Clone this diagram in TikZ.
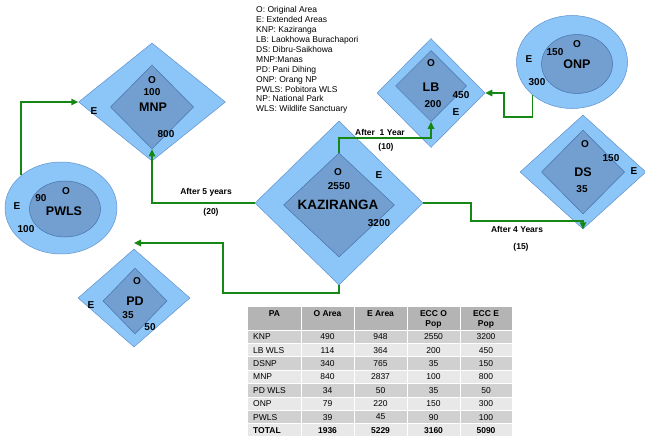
\documentclass[tikz,border=0pt]{standalone}
\usepackage{fontspec}
\setmainfont{Liberation Sans}
\usetikzlibrary{shapes.geometric,arrows.meta,calc}
\definecolor{outerblue}{RGB}{140,198,248}
\definecolor{innerblue}{RGB}{114,159,207}
\definecolor{edgeblue}{RGB}{95,145,205}
\definecolor{inedge}{RGB}{70,115,175}
\definecolor{linkgreen}{RGB}{20,135,20}
\definecolor{hdrgray}{RGB}{180,180,180}
\definecolor{rowdark}{RGB}{208,208,208}
\definecolor{rowlight}{RGB}{232,232,232}
\begin{document}
\begin{tikzpicture}[x=1pt,y=-1pt,
  sz/.style 2 args={minimum width=#1pt,minimum height=#2pt},
  odia/.style={diamond,draw=edgeblue,line width=0.5pt,fill=outerblue,inner sep=0pt},
  idia/.style={diamond,draw=inedge,line width=0.5pt,fill=innerblue,inner sep=0pt},
  oell/.style={ellipse,draw=edgeblue,line width=0.5pt,fill=outerblue,inner sep=0pt},
  iell/.style={ellipse,draw=inedge,line width=0.5pt,fill=innerblue,inner sep=0pt},
  lbl/.style={font=\fontsize{10}{12}\selectfont\bfseries,inner sep=0pt},
  pname/.style={font=\fontsize{12.5}{14}\selectfont\bfseries,inner sep=0pt},
  link/.style={draw=linkgreen,line width=1.6pt,-{Triangle[length=7pt,width=6.5pt]}},
  ltxt/.style={font=\fontsize{8.5}{10}\selectfont\bfseries,inner sep=0pt},
  legend/.style={font=\fontsize{8.5}{9.9}\selectfont,align=left,inner sep=0pt},
  tcell/.style={font=\fontsize{8.5}{10}\selectfont,inner sep=0pt},
  tbold/.style={font=\fontsize{8.5}{10}\selectfont\bfseries,inner sep=0pt},
  thead/.style={font=\fontsize{8.5}{10}\selectfont\bfseries,inner sep=0pt,align=center,anchor=north},
]
\useasboundingbox (0,0) rectangle (645,436);

% ---- legend
\node[legend,anchor=north west] (legend) at (256,6.5) {O: Original Area\\E: Extended Areas\\KNP: Kaziranga\\LB: Laokhowa Burachapori\\DS: Dibru-Saikhowa\\MNP:Manas\\PD: Pani Dihing\\ONP: Orang NP\\PWLS: Pobitora WLS\\NP: National Park\\WLS: Wildlife Sanctuary};

% ---- Kaziranga
\node[odia,sz={168}{164}] (knp) at (339,203) {};
\node[idia,sz={111}{104}] (knpI) at (339,205) {};
\node[lbl] (knpO) at (338,172) {O};
\node[lbl] (knpOn) at (339,186) {2550};
\node[font=\fontsize{13.5}{15}\selectfont\bfseries,inner sep=0pt] (knpN) at (338,205) {KAZIRANGA};
\node[lbl] (knpE) at (379,175) {E};
\node[lbl] (knpEn) at (379,223) {3200};

% ---- Manas
\node[odia,sz={147}{118}] (mnp) at (152,102) {};
\node[idia,sz={83}{84}] (mnpI) at (152,107) {};
\node[lbl] (mnpO) at (152,80) {O};
\node[lbl] (mnpOn) at (152,92) {100};
\node[pname] (mnpN) at (153,107) {MNP};
\node[lbl] (mnpE) at (94,111) {E};
\node[lbl] (mnpEn) at (166,134) {800};

% ---- Pobitora
\node[oell,sz={112}{92}] (pwls) at (61,208) {};
\node[iell,sz={71}{56}] (pwlsI) at (65,209) {};
\node[lbl] (pwlsO) at (66,191) {O};
\node[lbl] (pwlsOn) at (41,198) {90};
\node[pname] (pwlsN) at (64,211) {PWLS};
\node[lbl] (pwlsE) at (17,206) {E};
\node[lbl] (pwlsEn) at (26,229) {100};

% ---- Laokhowa
\node[odia,sz={108}{109}] (lb) at (431,93) {};
\node[idia,sz={71}{71}] (lbI) at (431,86) {};
\node[lbl] (lbO) at (431,63) {O};
\node[pname] (lbN) at (431,87) {LB};
\node[lbl] (lbOn) at (433,104) {200};
\node[lbl] (lbEn) at (461,95) {450};
\node[lbl] (lbE) at (456,112) {E};

% ---- Orang
\node[oell,sz={111}{93}] (onp) at (572,62) {};
\node[iell,sz={71}{59}] (onpI) at (577,64) {};
\node[lbl] (onpO) at (577,44) {O};
\node[lbl] (onpOn) at (555,52) {150};
\node[pname] (onpN) at (577,64) {ONP};
\node[lbl] (onpE) at (529,59) {E};
\node[lbl] (onpEn) at (537,82) {300};

% ---- Dibru-Saikhowa
\node[odia,sz={126}{114}] (ds) at (583,172) {};
\node[idia,sz={83}{84}] (dsI) at (583,172) {};
\node[lbl] (dsO) at (585,144) {O};
\node[lbl] (dsEn) at (611,158) {150};
\node[pname] (dsN) at (583,172) {DS};
\node[lbl] (dsE) at (634,171) {E};
\node[lbl] (dsOn) at (582,189) {35};

% ---- Pani Dihing
\node[odia,sz={112}{98}] (pd) at (134,298) {};
\node[idia,sz={64}{66}] (pdI) at (135,301) {};
\node[lbl] (pdO) at (137,281) {O};
\node[pname] (pdN) at (135,301) {PD};
\node[lbl] (pdE) at (91,305) {E};
\node[lbl] (pdOn) at (128,315) {35};
\node[lbl] (pdEn) at (150,327) {50};

% ---- connectors
\coordinate (c1) at (223,243);
\draw[link] (pwls.north west) |- (mnp.west);
\draw[link] (knp.west) -| (mnpI.south);
\draw[link] (knpI.north) -- ++(0,-15) -| (lbI.south);
\draw[link] (onp.south west) -- ++(0,22) -| ([xshift=19pt]lb.east) -- (lb.east);
\draw[link] (knp.east) -- ++(48,0) |- ([yshift=8pt]ds.south) -- (ds.south);
\draw[link] (knp.south) -- ++(0,8) -| (c1) -- (pd.north |- c1);

\node[ltxt] (l5) at (206,192) {After 5 years};
\node[ltxt] (l5n) at (211,212) {(20)};
\node[ltxt] (l1) at (380,132) {After\ \ 1 Year};
\node[ltxt] (l1n) at (386,147) {(10)};
\node[ltxt] (l4) at (517,229) {After 4 Years};
\node[ltxt] (l4n) at (521,247) {(15)};

% ---- table
\fill[hdrgray] (248,307) rectangle (512,330);
\foreach \i/\col in {0/rowdark,1/rowlight,2/rowdark,3/rowlight,4/rowdark,5/rowlight,6/rowdark,7/rowlight}
  \fill[\col] (248,{330+13.4*\i}) rectangle (512,{330+13.4*(\i+1)});
\foreach \x in {301,354,407,460}
  \draw[white,line width=0.8pt] (\x,307) -- (\x,440);
\foreach \i in {0,...,7}
  \draw[white,line width=0.8pt] (248,{330+13.4*\i}) -- (512,{330+13.4*\i});

\node[thead] (h1) at (274.5,310) {PA};
\node[thead] (h2) at (327.5,310) {O Area};
\node[thead] (h3) at (380.5,310) {E Area};
\node[thead] (h4) at (433.5,310) {ECC O\\Pop};
\node[thead] (h5) at (486,310) {ECC E\\Pop};

\foreach \r/\a/\b/\c/\d [count=\i from 0] in {KNP/490/948/2550/3200,LB WLS/114/364/200/450,DSNP/340/765/35/150,MNP/840/2837/100/800,PD WLS/34/50/35/50,ONP/79/220/150/300,PWLS/39/45/90/100}{
  \node[tcell,anchor=west] (r\i) at (253,{336.7+13.4*\i}) {\r};
  \node[tcell] (a\i) at (327.5,{336.7+13.4*\i}) {\a};
  \node[tcell] (b\i) at (380.5,{336.7+13.4*\i}) {\b};
  \node[tcell] (c\i) at (433.5,{336.7+13.4*\i}) {\c};
  \node[tcell] (d\i) at (486,{336.7+13.4*\i}) {\d};
}
\node[tbold,anchor=west] (tot) at (253,430.5) {TOTAL};
\node[tbold] (tota) at (327.5,430.5) {1936};
\node[tbold] (totb) at (380.5,430.5) {5229};
\node[tbold] (totc) at (433.5,430.5) {3160};
\node[tbold] (totd) at (486,430.5) {5090};
\end{tikzpicture}
\end{document}
